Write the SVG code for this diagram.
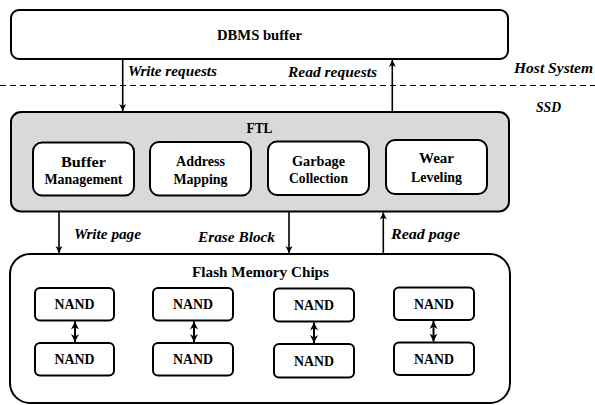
<svg xmlns="http://www.w3.org/2000/svg" width="595" height="405" viewBox="0 0 595 405">
<defs>
<style>
text{font-family:"Liberation Serif","Times New Roman",Times,Tinos,"Noto Serif","DejaVu Serif",FreeSerif,serif;font-weight:bold;fill:#000}
.box{fill:#fff;stroke:#000;stroke-width:2}
.ftl{fill:#d9d9d9;stroke:#000;stroke-width:2}
.t{font-size:14.5px;text-anchor:middle}
.s{font-size:14px;text-anchor:middle}
.i{font-style:italic;font-size:15px}
.c{stroke:#000;stroke-width:1.6;fill:none}
.d{stroke:#000;stroke-width:2;fill:none}
</style>
<marker id="ah" viewBox="0 0 10 10" refX="10" refY="5" markerWidth="7" markerHeight="9" markerUnits="userSpaceOnUse" orient="auto">
<path d="M0,0 L10,5 L0,10 L3,5 Z" fill="#000"/>
</marker>
<marker id="ah2" viewBox="0 0 10 10" refX="10" refY="5" markerWidth="8" markerHeight="9" markerUnits="userSpaceOnUse" orient="auto-start-reverse">
<path d="M0,0 L10,5 L0,10 L3,5 Z" fill="#000"/>
</marker>
</defs>
<rect width="595" height="405" fill="#fff"/>

<g id="dbms">
<rect class="box" x="11" y="10" width="497" height="49" rx="8"/>
<text class="t" x="259.5" y="40" textLength="85" lengthAdjust="spacingAndGlyphs">DBMS buffer</text>
</g>

<g id="divider">
<line x1="0" y1="85.5" x2="595" y2="85.5" stroke="#000" stroke-width="1.2" stroke-dasharray="6,4"/>
<text class="i" x="514" y="73" textLength="79" lengthAdjust="spacingAndGlyphs">Host System</text>
<text class="i" x="536" y="112" textLength="25" lengthAdjust="spacingAndGlyphs">SSD</text>
</g>

<g id="ftl">
<rect class="ftl" x="11" y="112" width="498" height="99.5" rx="10"/>
<text class="t" x="259.5" y="133" textLength="26" lengthAdjust="spacingAndGlyphs">FTL</text>
</g>

<g id="buffer-management">
<rect class="box" x="33" y="142.5" width="101" height="53" rx="9"/>
<text class="s" x="83.5" y="166.5" textLength="45" lengthAdjust="spacingAndGlyphs">Buffer</text>
<text class="s" x="83.5" y="184" textLength="78" lengthAdjust="spacingAndGlyphs">Management</text>
</g>
<g id="address-mapping">
<rect class="box" x="150" y="142" width="101" height="53.5" rx="9"/>
<text class="s" x="200.5" y="166" textLength="49" lengthAdjust="spacingAndGlyphs">Address</text>
<text class="s" x="200.5" y="184" textLength="54" lengthAdjust="spacingAndGlyphs">Mapping</text>
</g>
<g id="garbage-collection">
<rect class="box" x="268" y="141.5" width="101" height="53.5" rx="9"/>
<text class="s" x="318.5" y="165.5" textLength="53" lengthAdjust="spacingAndGlyphs">Garbage</text>
<text class="s" x="318.5" y="183" textLength="59" lengthAdjust="spacingAndGlyphs">Collection</text>
</g>
<g id="wear-leveling">
<rect class="box" x="386" y="140" width="101" height="54" rx="9"/>
<text class="s" x="436.5" y="163" textLength="35" lengthAdjust="spacingAndGlyphs">Wear</text>
<text class="s" x="436.5" y="181.5" textLength="51" lengthAdjust="spacingAndGlyphs">Leveling</text>
</g>

<g id="flash">
<rect class="box" x="10" y="254" width="500" height="149" rx="20"/>
<text class="t" x="260.5" y="277" textLength="137" lengthAdjust="spacingAndGlyphs">Flash Memory Chips</text>
</g>

<g id="nand1a"><rect class="box" x="35" y="288" width="79" height="32.5" rx="5"/><text class="s" x="74.5" y="309" textLength="40" lengthAdjust="spacingAndGlyphs">NAND</text></g>
<g id="nand1b"><rect class="box" x="35" y="343" width="79" height="32.5" rx="5"/><text class="s" x="74.5" y="364" textLength="40" lengthAdjust="spacingAndGlyphs">NAND</text></g>
<g id="nand2a"><rect class="box" x="153" y="288" width="80" height="32.5" rx="5"/><text class="s" x="193" y="309" textLength="40" lengthAdjust="spacingAndGlyphs">NAND</text></g>
<g id="nand2b"><rect class="box" x="153" y="343" width="80" height="32.5" rx="5"/><text class="s" x="193" y="364" textLength="40" lengthAdjust="spacingAndGlyphs">NAND</text></g>
<g id="nand3a"><rect class="box" x="274" y="288.5" width="80" height="33" rx="5"/><text class="s" x="314" y="310" textLength="40" lengthAdjust="spacingAndGlyphs">NAND</text></g>
<g id="nand3b"><rect class="box" x="274" y="344" width="80" height="33.5" rx="5"/><text class="s" x="314" y="365.5" textLength="40" lengthAdjust="spacingAndGlyphs">NAND</text></g>
<g id="nand4a"><rect class="box" x="394" y="287.5" width="80" height="32.5" rx="5"/><text class="s" x="434" y="308.5" textLength="40" lengthAdjust="spacingAndGlyphs">NAND</text></g>
<g id="nand4b"><rect class="box" x="394" y="342.5" width="80" height="32.5" rx="5"/><text class="s" x="434" y="363.5" textLength="40" lengthAdjust="spacingAndGlyphs">NAND</text></g>

<g id="connectors">
<line class="c" x1="122.7" y1="59" x2="122.7" y2="111" marker-end="url(#ah)"/>
<line class="c" x1="392.3" y1="112" x2="392.3" y2="60" marker-end="url(#ah)"/>
<line class="c" x1="59" y1="211.5" x2="59" y2="253" marker-end="url(#ah)"/>
<line class="c" x1="289" y1="211.5" x2="289" y2="253" marker-end="url(#ah)"/>
<line class="c" x1="383.3" y1="254" x2="383.3" y2="212.5" marker-end="url(#ah)"/>
<line class="d" x1="75" y1="321.5" x2="75" y2="342" marker-start="url(#ah2)" marker-end="url(#ah2)"/>
<line class="d" x1="194" y1="321.5" x2="194" y2="342" marker-start="url(#ah2)" marker-end="url(#ah2)"/>
<line class="d" x1="314" y1="322.5" x2="314" y2="343" marker-start="url(#ah2)" marker-end="url(#ah2)"/>
<line class="d" x1="433.5" y1="321" x2="433.5" y2="341.5" marker-start="url(#ah2)" marker-end="url(#ah2)"/>
<text class="i" x="128" y="76" textLength="89" lengthAdjust="spacingAndGlyphs">Write requests</text>
<text class="i" x="288" y="77" textLength="89" lengthAdjust="spacingAndGlyphs">Read requests</text>
<text class="i" x="74" y="239" textLength="67" lengthAdjust="spacingAndGlyphs">Write page</text>
<text class="i" x="198" y="242" textLength="77" lengthAdjust="spacingAndGlyphs">Erase Block</text>
<text class="i" x="391" y="238.5" textLength="69" lengthAdjust="spacingAndGlyphs">Read page</text>
</g>
</svg>
